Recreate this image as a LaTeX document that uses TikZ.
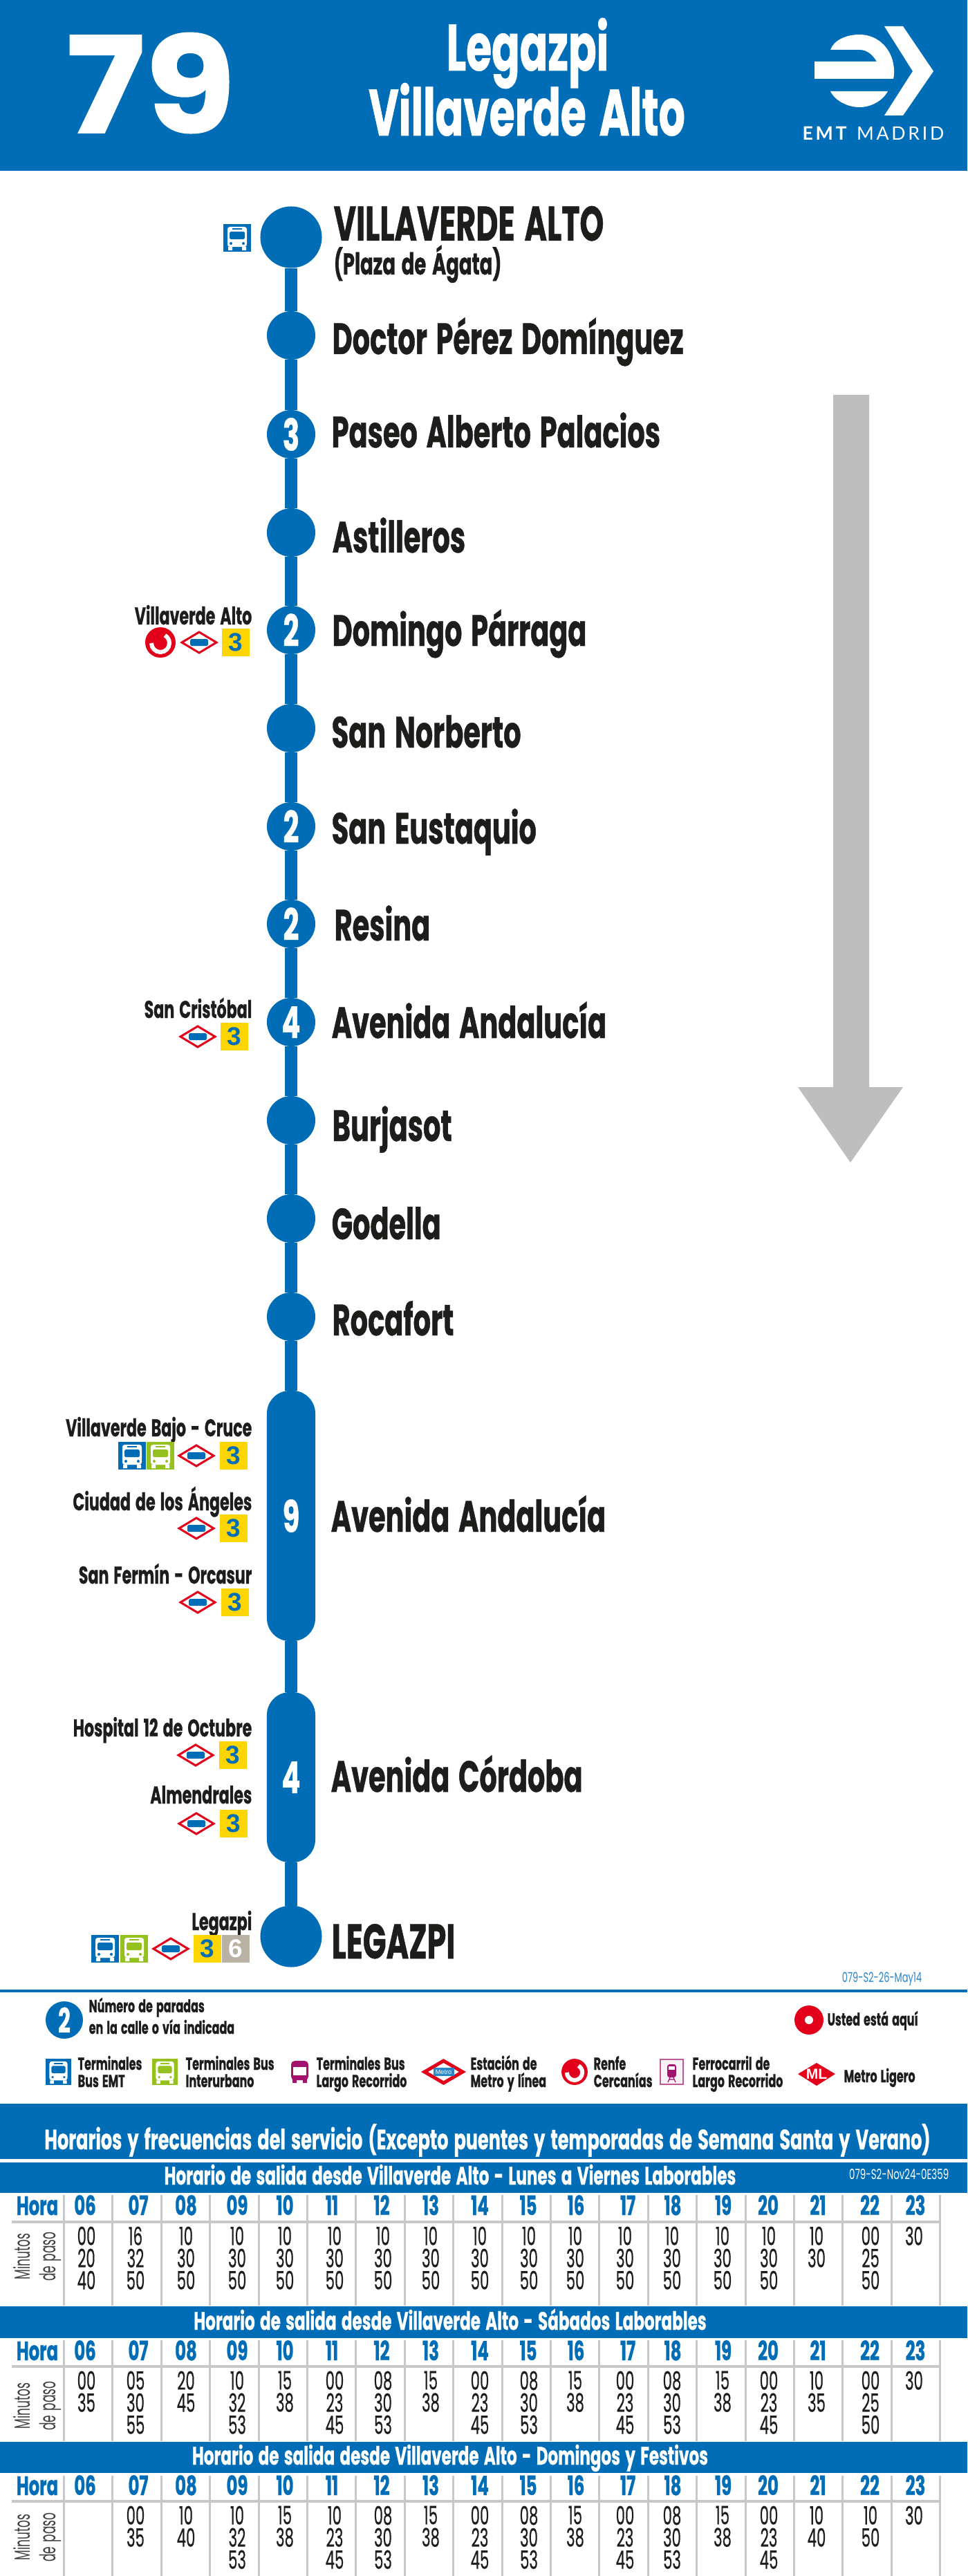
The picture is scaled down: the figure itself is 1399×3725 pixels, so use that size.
\documentclass[tikz,border=0pt]{standalone}
\usepackage{fontspec}
\newfontfamily\condbold[FakeStretch=0.63, FakeBold=0.7, WordSpace=1.5]{Poppins}
\newfontfamily\condreg[FakeStretch=0.66]{Poppins}
\newfontfamily\narrowreg[FakeStretch=0.54, WordSpace=1.3]{Poppins}
\newfontfamily\digitreg[FakeStretch=0.58, FakeBold=0.4]{Poppins}
\newfontfamily\wide[FakeStretch=1.1, FakeBold=1]{Poppins}
\newfontfamily\logofont[LetterSpace=14]{Lato}
\newfontfamily\tagfont{Liberation Sans}
\definecolor{emtblue}{HTML}{006DB6}
\definecolor{lineblue}{HTML}{2A86C8}
\definecolor{metrored}{HTML}{E2001A}
\definecolor{tagyellow}{HTML}{FFD500}
\definecolor{taggrey}{HTML}{B9B1A4}
\definecolor{inkblack}{HTML}{1D1D1B}
\definecolor{gridgrey}{HTML}{C8C8C8}
\definecolor{busgreen}{HTML}{95C11F}
\definecolor{longpurple}{HTML}{A3126F}
\tikzset{
  stopdot/.style={circle, fill=emtblue, minimum size=0.7cm, inner sep=0pt, outer sep=0pt, text=white,
    font=\condbold\bfseries\fontsize{18}{20}\selectfont},
  enddot/.style={stopdot, minimum size=0.89cm},
  pill/.style={stopdot, circle=false, rectangle, rounded corners=0.33cm, minimum width=0.7cm},
  route/.style={emtblue, line width=0.18cm},
  stoplabel/.style={anchor=base west, inner sep=0pt, text=inkblack,
    font=\condbold\bfseries\fontsize{18}{20}\selectfont},
  sidelabel/.style={anchor=base east, inner sep=0pt, text=inkblack,
    font=\condbold\bfseries\fontsize{10}{12}\selectfont},
  legendlabel/.style={anchor=base west, inner sep=0pt, align=left, text=inkblack,
    font=\condbold\bfseries\fontsize{7.2}{7.1}\selectfont},
  linetag/.style={fill=tagyellow, minimum size=0.4cm, inner sep=0pt, text=emtblue,
    font=\tagfont\bfseries\fontsize{10.5}{12}\selectfont},
  grey tag/.style={linetag, fill=taggrey, text=white},
  bandtext/.style={inner sep=0pt, text=white, anchor=base,
    font=\condbold\bfseries\fontsize{10.4}{12}\selectfont},
  hourlabel/.style={anchor=base, inner sep=0pt, text=emtblue,
    font=\condbold\bfseries\fontsize{11}{12}\selectfont},
  minute/.style={anchor=north, inner sep=0pt, align=center, text=inkblack,
    font=\digitreg\fontsize{10.4}{9.1}\selectfont},
  pasolabel/.style={rotate=90, inner sep=0pt, align=center, text=inkblack!85,
    font=\narrowreg\fontsize{9}{10.5}\selectfont},
  busicon/.pic={
    \fill[#1] (-20,-20) rectangle (20,20);
    \fill[white, rounded corners=1pt] (-14,-16) rectangle (14,13);
    \fill[white] (-13,13) rectangle (-7,18) (7,13) rectangle (13,18);
    \fill[#1, rounded corners=0.5pt] (-11,-9) rectangle (11,2);
    \fill[#1] (-7,-14) rectangle (7,-12);
    \fill[#1] (-9,8) circle (2) (9,8) circle (2);
  },
  metrosign/.pic={
    \draw[metrored, line width=0.03cm, fill=white] (-25,0) -- (0,-15) -- (25,0) -- (0,15) -- cycle;
    \fill[emtblue, rounded corners=0.5pt] (-13,-5) rectangle (13,5);
  },
  renfesign/.pic={
    \fill[metrored] (0,0) circle (22);
    \draw[white, line width=0.06cm] (-13,1) arc[start angle=180, end angle=-60, radius=13];
  }
}
% horas
\newcommand{\hourrow}[1]{
  \node[hourlabel] (hora#1) at (54,#1) {Hora};
  \foreach \x/\h in {123/06,200/07,269/08,343/09,412/10,480/11,552/12,623/13,694/14,764/15,833/16,908/17,973/18,1046/19,1111/20,1183/21,1258/22,1324/23}
    {\node[hourlabel] (h#1-\h) at (\x,#1) {\h};}
}
% rejilla gris
\newcommand{\gridlines}[3]{
  \foreach \i in {0,...,18}
    {\draw[gridgrey, line width=0.03cm] ({92.4+70.4*\i},#1) -- ({92.4+70.4*\i},#3);}
  \draw[gridgrey, line width=0.035cm] (17,#2) -- (1360,#2);
}
\newcommand{\minutecols}[2]{
  \foreach \x/\m in {#2}
    {\node[minute] (m#1-\x) at (\x,#1) {\m};}
}
\begin{document}
\begin{tikzpicture}[x=0.01cm, y=-0.01cm]
  \useasboundingbox (0,0) rectangle (1399,3725);
  \fill[white] (0,0) rectangle (1399,3725);

  % cabecera
  \fill[emtblue] (0,0) rectangle (1399,247);
  \node[inner sep=0pt, text=white, anchor=base, font=\wide\bfseries\fontsize{55}{60}\selectfont] (lineno) at (218,192) {79};
  \node[bandtext, font=\condbold\bfseries\fontsize{27}{30}\selectfont] (head1) at (763,102) {Legazpi};
  \node[bandtext, font=\condbold\bfseries\fontsize{27}{30}\selectfont] (head2) at (762,196) {Villaverde Alto};

  % logo
  \fill[white] (1279,38) -- (1306,38) -- (1350,103) -- (1306,167) -- (1279,167) -- (1320,103) -- cycle;
  \fill[white] (1201,72) .. controls (1206,58) and (1224,50) .. (1243,50)
    .. controls (1272,50) and (1293,74) .. (1293,103) .. controls (1293,107) and (1293,110) .. (1292,114)
    -- (1178,114) -- (1178,89) -- (1268,89) .. controls (1262,79) and (1254,72) .. (1243,72) -- cycle;
  \fill[white] (1201,132) -- (1284,132) .. controls (1276,146) and (1260,155) .. (1243,155)
    .. controls (1226,155) and (1208,146) .. (1201,132) -- cycle;
  \node[inner sep=0pt, text=white, anchor=base, font=\logofont\fontsize{7.6}{9}\selectfont] (logotext) at (1263,203) {\textbf{EMT} MADRID};

  % flecha
  \fill[gridgrey!95!black] (1205,571) -- (1257,571) -- (1257,1572) -- (1306,1572) -- (1230,1681) -- (1154,1572) -- (1205,1572) -- cycle;

  % paradas
  \node[enddot] (s1) at (421,343) {};
  \foreach \y/\n [count=\i from 2] in {485/{},628/3,770/{},911/2,1053/{},1195/2,1336/2,1478/4,1620/{},1762/{},1904/{}}
    \node[stopdot] (s\i) at (421,\y) {\n};
  \node[pill, minimum height=3.62cm] (s13) at (421,2192) {9};
  \node[pill, minimum height=2.46cm] (s14) at (421,2570) {4};
  \node[enddot] (s15) at (421,2800) {};

  % linea
  \foreach \a/\b in {1/2,2/3,3/4,4/5,5/6,6/7,7/8,8/9,9/10,10/11,11/12,12/13,13/14,14/15}
    \draw[route] (s\a) -- (s\b);

  % nombres
  \node[stoplabel, font=\condbold\bfseries\fontsize{20}{22}\selectfont] (t1) at (482,348) {VILLAVERDE ALTO};
  \node[stoplabel, font=\condbold\bfseries\fontsize{12.4}{14}\selectfont] (t1b) at (482,397) {(Plaza de Ágata)};
  \node[stoplabel, font=\condbold\bfseries\fontsize{20}{22}\selectfont] (t15) at (479,2832) {LEGAZPI};
  \foreach \x/\y/\name [count=\i from 2] in {480/512/Doctor Pérez Domínguez,479/647/Paseo Alberto Palacios,480/799/Astilleros,480/934/Domingo Párraga,479/1081/San Norberto,479/1220/San Eustaquio,483/1360/Resina,479/1501/Avenida Andalucía,480/1650/Burjasot,479/1792/Godella,480/1931/Rocafort,478/2215/Avenida Andalucía,478/2591/Avenida Córdoba}
    \node[stoplabel] (t\i) at (\x,\y) {\name};

  % transbordos
  \foreach \y/\name [count=\i] in {903/Villaverde Alto,1472/San Cristóbal,2077/Villaverde Bajo - Cruce,2184/Ciudad de los Ángeles,2290/San Fermín - Orcasur,2511/Hospital 12 de Octubre,2608/Almendrales,2791/Legazpi}
    \node[sidelabel] (c\i) at (365,\y) {\name};
  \foreach \x/\y [count=\i] in {341/929,339/1499,338/2105,338/2210,340/2317,337/2538,338/2637,300/2818}
    \node[linetag] (tag\i) at (\x,\y) {3};
  \node[grey tag] (tag9) at (341,2818) {6};
  \foreach \x/\y in {288/929,286/1499,284/2105,284/2210,286/2317,283/2538,284/2637,247/2818}
    \pic at (\x,\y) {metrosign};
  \pic at (232,929) {renfesign};
  \foreach \x/\y in {343/344,191/2105,152/2818}
    \pic at (\x,\y) {busicon=emtblue};
  \foreach \x/\y in {232/2105,194/2818}
    \pic at (\x,\y) {busicon=busgreen};

  % codigo
  \node[anchor=base east, inner sep=0pt, text=lineblue, font=\condreg\fontsize{5.6}{7}\selectfont] (code1) at (1334,2866) {079-S2-26-May14};
  \fill[emtblue] (0,2877) rectangle (1399,2881);

  % leyenda
  \node[circle, fill=emtblue, minimum size=0.54cm, inner sep=0pt, text=white, font=\condbold\bfseries\fontsize{14}{16}\selectfont] (ley2) at (93,2921) {2};
  \node[legendlabel] (leytext) at (128,2941) {Número de paradas\\en la calle o vía indicada};
  \node[circle, fill=metrored, minimum size=0.42cm, inner sep=0pt] (aqui) at (1170,2921) {};
  \fill[white] (1170,2921) circle (6);
  \node[legendlabel] (aquitext) at (1196,2929) {Usted está aquí};

  \pic[xscale=0.93, yscale=0.95] at (84.5,2996) {busicon=emtblue};
  \pic[xscale=0.93, yscale=0.95] at (238.5,2996) {busicon=busgreen};
  % bus morado
  \fill[longpurple, rounded corners=1.5pt] (421,2980) rectangle (446,3008);
  \fill[longpurple] (423,3006) rectangle (429,3012) (438,3006) rectangle (444,3012);
  \fill[white] (424,2989) rectangle (443,3001);
  % metro grande
  \draw[metrored, line width=0.05cm, fill=white] (614,2996) -- (641.5,2980) -- (669,2996) -- (641.5,3012) -- cycle;
  \node[fill=lineblue, minimum width=0.3cm, minimum height=0.12cm, inner sep=0pt, text=white, font=\tagfont\fontsize{2.6}{3}\selectfont] (metrobar) at (641.5,2996) {Metro};
  \pic[xscale=0.86, yscale=0.86] at (831,2996) {renfesign};
  % tren
  \draw[longpurple!70, line width=0.015cm, fill=longpurple!6] (955,2978) rectangle (988,3014);
  \fill[longpurple, rounded corners=1pt] (965,2985) rectangle (978,3004);
  \fill[white] (967,2988) rectangle (976,2993);
  \draw[longpurple, line width=0.012cm] (966,3011) -- (969,3004) (977,3011) -- (974,3004) (968,3007) -- (975,3007);
  % metro ligero
  \fill[metrored] (1154,2999) -- (1181,2983) -- (1208,2999) -- (1181,3016) -- cycle;
  \node[inner sep=0pt, text=white, font=\tagfont\bfseries\fontsize{6}{7}\selectfont] (mltext) at (1181,2999) {ML};

  \foreach \x/\txt [count=\i] in {112/{Terminales\\Bus EMT},268/{Terminales Bus\\Interurbano},457/{Terminales Bus\\Largo Recorrido},680/{Estación de\\Metro y línea},858/{Renfe\\Cercanías},1001/{Ferrocarril de\\Largo Recorrido}}
    \node[legendlabel] (ley\i) at (\x,3018) {\txt};
  \node[legendlabel] (leyml) at (1220,3011) {Metro Ligero};

  % titulo horarios
  \fill[emtblue] (0,3042) rectangle (1399,3122);
  \node[bandtext, font=\condbold\bfseries\fontsize{11.5}{13}\selectfont] (horarios) at (705,3108) {Horarios y frecuencias del servicio (Excepto puentes y temporadas de Semana Santa y Verano)};

  % bandas
  \fill[emtblue] (0,3127) rectangle (1399,3171);
  \fill[emtblue] (0,3335) rectangle (1399,3381);
  \fill[emtblue] (0,3531) rectangle (1399,3576);
  \node[bandtext] (band1) at (651,3159) {Horario de salida desde Villaverde Alto - Lunes a Viernes Laborables};
  \node[bandtext] (band2) at (651,3369) {Horario de salida desde Villaverde Alto - Sábados Laborables};
  \node[bandtext] (band3) at (651,3564) {Horario de salida desde Villaverde Alto - Domingos y Festivos};
  \node[anchor=base east, inner sep=0pt, text=white, font=\condreg\fontsize{5.8}{7}\selectfont] (code2) at (1373,3151) {079-S2-Nov24-0E359};

  % tablas
  \gridlines{3174}{3213}{3334}
  \gridlines{3384}{3422}{3530}
  \gridlines{3580}{3617}{3725}
  \hourrow{3203}
  \hourrow{3413}
  \hourrow{3608}
  \node[pasolabel] (paso1) at (54,3263) {Minutos\\de paso};
  \node[pasolabel] (paso2) at (54,3479) {Minutos\\de paso};
  \node[pasolabel] (paso3) at (54,3669) {Minutos\\de paso};

  \minutecols{3219}{125/{00\\20\\40},196/{16\\32\\50},269/{10\\30\\50},343/{10\\30\\50},412/{10\\30\\50},484/{10\\30\\50},554/{10\\30\\50},623/{10\\30\\50},694/{10\\30\\50},765/{10\\30\\50},832/{10\\30\\50},904/{10\\30\\50},972/{10\\30\\50},1045/{10\\30\\50},1112/{10\\30\\50},1181/{10\\30},1259/{00\\25\\50},1322/{30}}
  \minutecols{3428}{125/{00\\35},196/{05\\30\\55},269/{20\\45},343/{10\\32\\53},412/{15\\38},484/{00\\23\\45},554/{08\\30\\53},623/{15\\38},694/{00\\23\\45},765/{08\\30\\53},832/{15\\38},904/{00\\23\\45},972/{08\\30\\53},1045/{15\\38},1112/{00\\23\\45},1181/{10\\35},1259/{00\\25\\50},1322/{30}}
  \minutecols{3623}{196/{00\\35},269/{10\\40},343/{10\\32\\53},412/{15\\38},484/{10\\23\\45},554/{08\\30\\53},623/{15\\38},694/{00\\23\\45},765/{08\\30\\53},832/{15\\38},904/{00\\23\\45},972/{08\\30\\53},1045/{15\\38},1112/{00\\23\\45},1181/{10\\40},1259/{10\\50},1322/{30}}
\end{tikzpicture}
\end{document}
